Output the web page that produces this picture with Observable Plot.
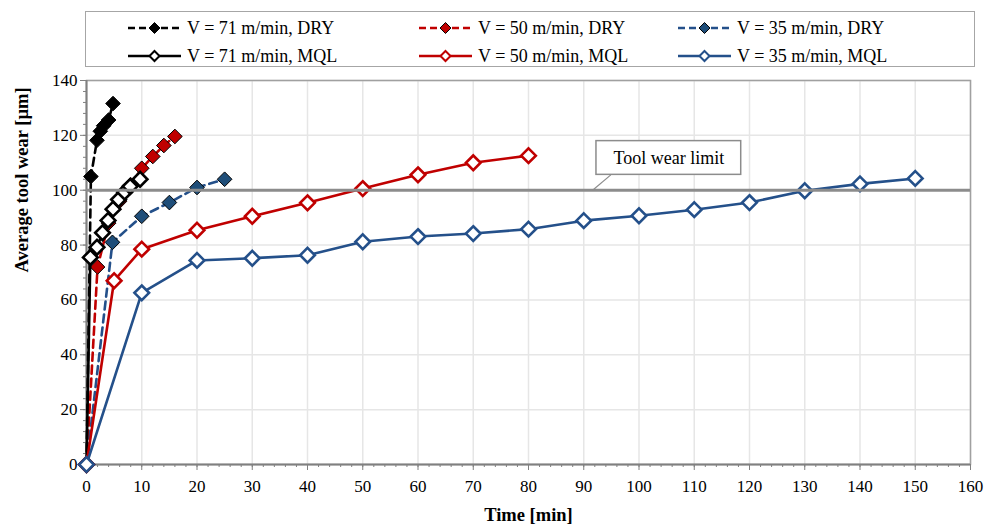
<!DOCTYPE html>
<html><head><meta charset="utf-8">
<script src="https://cdn.jsdelivr.net/npm/d3@7"></script>
<script src="https://cdn.jsdelivr.net/npm/@observablehq/plot@0.6"></script>
<style>
body{margin:0;background:#fff;font-family:"Liberation Serif",serif;}
#wrap{position:relative;width:1000px;height:531px;}
#legend{position:absolute;left:85px;top:11px;width:888px;height:54px;border:1.5px solid #a6a6a6;background:#fff;}
.item{position:absolute;display:flex;align-items:center;font-size:18px;height:22px;white-space:nowrap;color:#000;}
.item svg{margin-right:6px;}
</style></head><body><div id="wrap"><div id="legend"></div></div>
<script>
// ---- data ----
const dry71T = [0, 0.8, 1.9, 2.5, 3.1, 4.0, 4.8];
const dry71W = [0, 105, 118.2, 121.5, 123.5, 125.6, 131.6];
const dry50T = [0, 2, 4, 6, 8, 10, 12, 14, 16];
const dry50W = [0, 72, 88, 96, 102, 108, 112.3, 116.3, 119.6];
const dry35T = [0, 4.7, 10, 15, 20, 25];
const dry35W = [0, 81, 90.5, 95.5, 101, 104];
const mql71T = [0, 0.7, 1.9, 2.9, 3.9, 4.8, 5.8, 6.9, 7.9, 9.7];
const mql71W = [0, 75.5, 79.2, 84.5, 89, 93.1, 96.6, 99.3, 101.4, 104];
const mql50T = [0, 5, 10, 20, 30, 40, 50, 60, 70, 80];
const mql50W = [0, 67, 78.5, 85.4, 90.5, 95.4, 100.6, 105.6, 110, 112.6];
const mql35T = [0, 10, 20, 30, 40, 50, 60, 70, 80, 90, 100, 110, 120, 130, 140, 150];
const mql35W = [0, 62.6, 74.4, 75.2, 76.3, 81.2, 83.1, 84.2, 85.8, 88.9, 90.7, 92.9, 95.5, 99.8, 102.3, 104.3];
const seriesNames = ["V = 71 m/min, DRY", "V = 50 m/min, DRY", "V = 35 m/min, DRY",
                     "V = 71 m/min, MQL", "V = 50 m/min, MQL", "V = 35 m/min, MQL"];
const xTicks = d3.range(0, 161, 10);
const yTicks = d3.range(0, 141, 20);
const wearLimit = 100;
const limitLabel = "Tool wear limit";
const limitBox = {x1: 92.3, x2: 118.5, y1: 105.6, y2: 117.9};
const limitLeader = {x1: 91.6, y1: 100, x2: 94.9, y2: 105.6};

const BLACK = "#000000", RED = "#c00000", BLUE = "#24508a";
const series = [
  {name: seriesNames[0], t: dry71T, w: dry71W, color: BLACK, fill: BLACK, dry: true},
  {name: seriesNames[1], t: dry50T, w: dry50W, color: RED, fill: RED, dry: true},
  {name: seriesNames[2], t: dry35T, w: dry35W, color: BLUE, fill: "#1f4e79", dry: true},
  {name: seriesNames[3], t: mql71T, w: mql71W, color: BLACK, fill: "white", dry: false},
  {name: seriesNames[4], t: mql50T, w: mql50W, color: RED, fill: "white", dry: false},
  {name: seriesNames[5], t: mql35T, w: mql35W, color: BLUE, fill: "white", dry: false}
];

const seriesMarks = series.flatMap(s => {
  const data = s.t.map((t, i) => ({t, w: s.w[i]}));
  return [
    Plot.line(data, {x: "t", y: "w", stroke: s.color, strokeWidth: 2.6,
      strokeDasharray: s.dry ? "8,5" : null}),
    Plot.dot(data, {x: "t", y: "w", symbol: "diamond2", r: 6.6,
      fill: s.fill, stroke: s.dry ? "black" : s.color, strokeWidth: s.dry ? 1 : 2.6})
  ];
});

const chart = Plot.plot({
  width: 1000, height: 531,
  marginLeft: 86, marginRight: 30, marginTop: 80, marginBottom: 67,
  style: {fontFamily: "Liberation Serif, serif", fontSize: "17px", color: "black", background: "white"},
  x: {domain: [0, 160]},
  y: {domain: [0, 140]},
  marks: [
    Plot.gridX(xTicks.slice(1), {stroke: "#e6e6e6", strokeOpacity: 1, strokeWidth: 1.5}),
    Plot.gridY(yTicks.slice(1), {stroke: "#e6e6e6", strokeOpacity: 1, strokeWidth: 1.5}),
    Plot.frame({stroke: "#a0a0a0", strokeWidth: 1.5}),
    Plot.axisX(d3.range(0, 161, 2), {tickSize: 3, tickFormat: () => "", stroke: "#808080", label: null}),
    Plot.axisY(d3.range(0, 141, 4), {tickSize: 3, tickFormat: () => "", stroke: "#808080", label: null}),
    Plot.axisX(xTicks, {tickSize: 6, tickPadding: 9, stroke: "#808080", fill: "black", label: null}),
    Plot.axisY(yTicks, {tickSize: 6, tickPadding: 3, stroke: "#808080", fill: "black", label: null}),
    Plot.ruleY([0], {stroke: "#808080", strokeWidth: 2}),
    Plot.ruleX([0], {stroke: "#808080", strokeWidth: 2}),
    ...seriesMarks,
    Plot.ruleY([wearLimit], {stroke: "#8c8c8c", strokeWidth: 3}),
    Plot.link([limitLeader], {x1: "x1", y1: "y1", x2: "x2", y2: "y2", stroke: "#8c8c8c", strokeWidth: 1.2}),
    Plot.rect([limitBox], {x1: "x1", x2: "x2", y1: "y1", y2: "y2", fill: "white", stroke: "#8c8c8c", strokeWidth: 1.5}),
    Plot.text([limitLabel], {x: (limitBox.x1 + limitBox.x2) / 2, y: (limitBox.y1 + limitBox.y2) / 2,
      text: d => d, fontSize: 18, fill: "black"}),
    Plot.text(["Time [min]"], {frameAnchor: "bottom", dy: 56, text: d => d, fontWeight: "bold", fontSize: 18.5, fill: "black"}),
    Plot.text(["Average tool wear [µm]"], {frameAnchor: "left", dx: -64, rotate: -90, text: d => d, fontWeight: "bold", fontSize: 18.5, fill: "black"})
  ]
});
const wrap = document.getElementById("wrap");
wrap.insertBefore(chart, wrap.firstChild);

// ---- legend ----
const legend = document.getElementById("legend");
const cols = [42, 333, 592];
series.forEach((s, i) => {
  const col = i % 3, row = Math.floor(i / 3);
  const item = document.createElement("div");
  item.className = "item";
  item.style.left = cols[col] + "px";
  item.style.top = (row === 0 ? 5 : 33) + "px";
  const dash = s.dry ? 'stroke-dasharray="7,4"' : "";
  item.innerHTML =
    `<svg width="53" height="16" viewBox="0 0 53 16">
      <line x1="0" y1="8" x2="53" y2="8" stroke="${s.color}" stroke-width="2.5" ${dash}/>
      <path d="M26.5,${s.dry ? 2.5 : 3} L${s.dry ? 32 : 31.5},8 L26.5,${s.dry ? 13.5 : 13} L${s.dry ? 21 : 21.5},8 Z"
        fill="${s.fill}" stroke="${s.dry ? "black" : s.color}" stroke-width="${s.dry ? 1 : 2}"/>
    </svg><span>${s.name}</span>`;
  legend.appendChild(item);
});
</script></body></html>
